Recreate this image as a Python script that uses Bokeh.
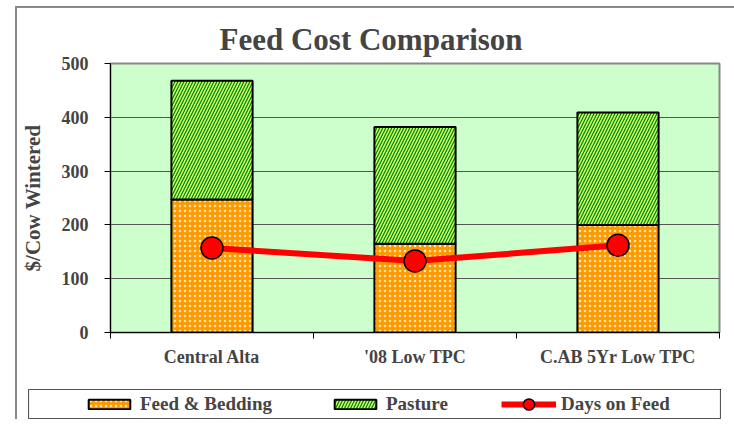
import numpy as np
from bokeh.plotting import figure
from bokeh.layouts import column
from bokeh.models import (ColumnDataSource, FixedTicker, Legend, LegendItem,
                          Range1d)
from bokeh.embed import file_html
from bokeh.resources import INLINE

# ---- data ----
categories = ["Central Alta", "'08 Low TPC", "C.AB 5Yr Low TPC"]
feed_bedding = [247, 165, 200]
pasture = [221, 217, 209]
days_on_feed = [157, 133, 162]
y_ticks = [0, 100, 200, 300, 400, 500]

xpos = list(np.arange(len(categories)) + 0.5)
totals = [f + p_ for f, p_ in zip(feed_bedding, pasture)]
src = ColumnDataSource(dict(x=xpos, fb=feed_bedding, tot=totals,
                            zero=[0] * len(categories), dof=days_on_feed))

SERIF = "Liberation Serif"
FB_STYLE = dict(fill_color="#FF9900", line_color="black", line_width=2,
                hatch_pattern="dot", hatch_color="#FFE6B3", hatch_scale=5,
                hatch_weight=2)
PA_STYLE = dict(fill_color="#CCFF66", line_color="black", line_width=2,
                hatch_pattern="right_diagonal_line", hatch_color="#008000",
                hatch_scale=6, hatch_weight=1.2)
LINE_STYLE = dict(line_color="#FF0000", line_width=6)
PT_STYLE = dict(fill_color="#FF0000", line_color="black", line_width=1.5)

p = figure(width=717, height=381, output_backend="svg", toolbar_location=None,
           x_range=Range1d(0, len(categories)), y_range=Range1d(0, 500),
           min_border_left=92, min_border_right=15, min_border_top=55,
           min_border_bottom=57, frame_align=False)

p.background_fill_color = "#CCFFCC"
p.border_fill_color = "white"
p.outline_line_color = "#888888"
p.outline_line_width = 2

# title
p.title.text = "Feed Cost Comparison"
p.title.text_font = SERIF
p.title.text_font_style = "bold"
p.title.text_font_size = "31px"
p.title.align = "left"
p.title.offset = 109
p.title.standoff = 14

# bars
p.vbar(x="x", bottom="zero", top="fb", width=0.4, source=src, **FB_STYLE)
p.vbar(x="x", bottom="fb", top="tot", width=0.4, source=src, **PA_STYLE)

# line
p.line(x="x", y="dof", source=src, **LINE_STYLE)
p.scatter(x="x", y="dof", source=src, size=22, **PT_STYLE)

# axes
p.xgrid.grid_line_color = None
p.ygrid.grid_line_color = "#555555"
p.ygrid.grid_line_width = 1

p.yaxis.ticker = FixedTicker(ticks=y_ticks)
p.yaxis.axis_label = "$/Cow Wintered"
p.yaxis.axis_label_text_font = SERIF
p.yaxis.axis_label_text_font_style = "bold"
p.yaxis.axis_label_text_font_size = "21px"
p.yaxis.axis_label_standoff = 14
p.yaxis.major_label_text_font = SERIF
p.yaxis.major_label_text_font_style = "bold"
p.yaxis.major_label_text_font_size = "18px"
p.yaxis.major_label_standoff = 16
p.yaxis.major_tick_in = 0
p.yaxis.major_tick_out = 6
p.yaxis.minor_tick_line_color = None
p.yaxis.axis_line_color = "black"

p.xaxis.ticker = FixedTicker(ticks=xpos,
                             minor_ticks=list(range(len(categories) + 1)))
p.xaxis.major_label_overrides = {x: c for x, c in zip(xpos, categories)}
p.xaxis.major_tick_line_color = None
p.xaxis.minor_tick_in = 0
p.xaxis.minor_tick_out = 6
p.xaxis.minor_tick_line_color = "black"
p.xaxis.major_label_text_font = SERIF
p.xaxis.major_label_text_font_style = "bold"
p.xaxis.major_label_text_font_size = "18px"
p.xaxis.major_label_standoff = 8
p.xaxis.axis_line_color = "black"

# legend strip: a small figure whose outline is the legend box; its glyphs
# share the chart data but lie outside its ranges, so only the legend shows
lg = figure(width=693, height=30, output_backend="svg", toolbar_location=None,
            x_axis_type=None, y_axis_type=None,
            x_range=Range1d(-20, -19), y_range=Range1d(-20, -19),
            min_border=0, margin=(0, 0, 0, 11), frame_align=False)
lg.grid.visible = False
lg.outline_line_color = "#555555"
lg.outline_line_width = 1.2
d_fb = lg.vbar(x="x", bottom="zero", top="fb", width=0.4, source=src, **FB_STYLE)
d_pa = lg.vbar(x="x", bottom="fb", top="tot", width=0.4, source=src, **PA_STYLE)
d_ln = lg.line(x="x", y="dof", source=src, **LINE_STYLE)
d_pt = lg.scatter(x="x", y="dof", source=src, size=12, **PT_STYLE)

LEG_COMMON = dict(orientation="horizontal", location="left", label_standoff=5,
                  spacing=57, padding=0, label_text_font=SERIF,
                  label_text_font_style="bold", label_text_font_size="19px",
                  border_line_color=None, background_fill_alpha=0)
legend_bars = Legend(items=[LegendItem(label="Feed & Bedding", renderers=[d_fb], index=0),
                            LegendItem(label="Pasture", renderers=[d_pa], index=0)],
                     glyph_width=52, glyph_height=12, margin=55, **LEG_COMMON)
legend_line = Legend(items=[LegendItem(label="Days on Feed", renderers=[d_ln, d_pt], index=0)],
                     glyph_width=55, glyph_height=28, margin=473, **LEG_COMMON)
lg.add_layout(legend_bars, "center")
lg.add_layout(legend_line, "center")

root = column(p, lg, spacing=0, margin=(6, 0, 0, 15),
              styles={"border-left": "2px solid #888888",
                      "border-top": "2px solid #888888"})

open("out.html", "w").write(file_html(root, INLINE))
